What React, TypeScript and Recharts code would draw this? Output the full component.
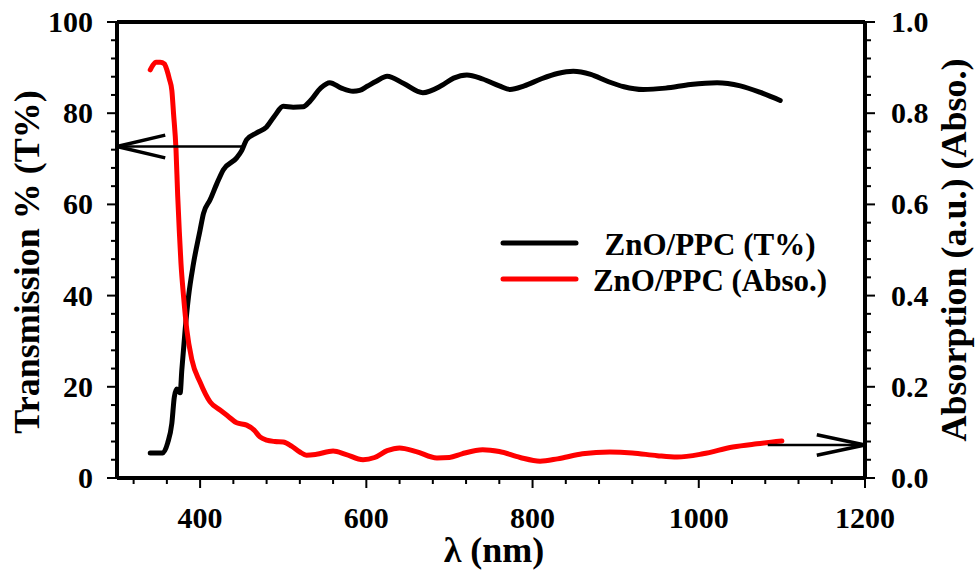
import { LineChart, Line, XAxis, YAxis, ReferenceLine, Legend } from 'recharts';

// transmission curve (left axis)
const tNm = [340, 350, 355, 361, 366, 369, 372, 376, 378, 382, 386, 392, 400, 404, 412, 420, 428, 444, 450, 456, 468, 480, 490, 500, 512, 524, 532, 545, 556, 570, 584, 592, 601, 612, 625, 645, 668, 690, 705, 721, 740, 760, 773, 790, 810, 830, 849, 870, 890, 910, 933, 960, 990, 1022, 1050, 1075, 1098];
const tVal = [5.5, 5.5, 5.5, 7.7, 12, 17.8, 19.5, 18.7, 23.7, 32.5, 39.7, 47, 54.4, 58, 61, 64.5, 67.6, 70.2, 71.8, 74.2, 75.7, 77, 79.5, 81.5, 81.3, 81.4, 82.6, 85.5, 86.7, 85.5, 84.8, 85, 85.9, 87, 88.1, 86.5, 84.5, 86, 87.7, 88.4, 87.5, 86, 85.2, 86, 87.5, 88.7, 89.2, 88.5, 87, 85.8, 85.2, 85.5, 86.3, 86.7, 86, 84.5, 82.8];

// absorption curve (right axis)
const aNm = [340, 343, 347, 352, 357, 360, 363, 366, 368, 371, 373, 375, 377, 380, 384, 390, 400, 412, 424, 434, 444, 456, 465, 472, 480, 490, 500, 510, 520, 528, 540, 560, 575, 596, 610, 625, 640, 660, 685, 700, 715, 740, 760, 785, 809, 830, 860, 893, 920, 950, 974, 1005, 1041, 1070, 1100];
const aVal = [0.895, 0.905, 0.912, 0.912, 0.908, 0.895, 0.875, 0.85, 0.8, 0.72, 0.62, 0.54, 0.47, 0.4, 0.325, 0.26, 0.21, 0.167, 0.149, 0.135, 0.121, 0.116, 0.105, 0.09, 0.083, 0.08, 0.079, 0.07, 0.057, 0.05, 0.052, 0.059, 0.052, 0.04, 0.045, 0.06, 0.066, 0.058, 0.044, 0.045, 0.053, 0.062, 0.058, 0.045, 0.037, 0.042, 0.053, 0.057, 0.055, 0.049, 0.046, 0.053, 0.068, 0.075, 0.081];

const seriesNames = ['ZnO/PPC (T%)', 'ZnO/PPC (Abso.)'];

// annotation arrows: [x, y] pairs
const arrowLeft = [[300, 72.7], [452, 72.7]];
const arrowLeftHead = [[300, 72.7], [358, 75.2], [358, 70.2]];
const arrowRight = [[1083, 0.0725], [1200, 0.0725]];
const arrowRightHead = [[1200, 0.0725], [1142, 0.095], [1142, 0.05]];

const xTicks: number[] = [];
for (let v = 320; v <= 1200; v += 40) xTicks.push(v);
const leftTicks: number[] = [];
for (let v = 0; v <= 100; v += 4) leftTicks.push(v);
const rightTicks: number[] = [];
for (let i = 0; i <= 25; i++) rightTicks.push(Math.round(i * 4) / 100);

const tData = tNm.map((nm, i) => ({ nm, t: tVal[i] }));
const aData = aNm.map((nm, i) => ({ nm, a: aVal[i] }));

const FONT = '"Liberation Serif", "Times New Roman", serif';
const TICK_FONT = 30;

function XTick({ x, y, payload }: any) {
  const major = payload.value % 200 === 0;
  return (
    <g>
      <line x1={x} y1={y} x2={x} y2={y + (major ? 10 : 6)} stroke="#000" strokeWidth={2} />
      {major && (
        <text x={x} y={y + 50} textAnchor="middle" fontFamily={FONT} fontWeight="bold" fontSize={TICK_FONT} fill="#000">
          {payload.value}
        </text>
      )}
    </g>
  );
}

function LeftTick({ x, y, payload }: any) {
  const major = payload.value % 20 === 0;
  return (
    <g>
      <line x1={x} y1={y} x2={x - (major ? 10 : 6)} y2={y} stroke="#000" strokeWidth={2} />
      {major && (
        <text x={x - 24} y={y + 10} textAnchor="end" fontFamily={FONT} fontWeight="bold" fontSize={TICK_FONT} fill="#000">
          {payload.value}
        </text>
      )}
    </g>
  );
}

function RightTick({ x, y, payload }: any) {
  const v = payload.value;
  const major = Math.abs(v * 5 - Math.round(v * 5)) < 1e-6;
  return (
    <g>
      <line x1={x} y1={y} x2={x + (major ? 10 : 6)} y2={y} stroke="#000" strokeWidth={2} />
      {major && (
        <text x={x + 26} y={y + 10} textAnchor="start" fontFamily={FONT} fontWeight="bold" fontSize={TICK_FONT} fill="#000">
          {v.toFixed(1)}
        </text>
      )}
    </g>
  );
}

function LegendBox({ payload }: any) {
  const items = [...(payload || [])].sort(
    (a: any, b: any) => seriesNames.indexOf(a.value) - seriesNames.indexOf(b.value)
  );
  return (
    <svg width={350} height={80}>
      {items.map((p: any, i: number) => (
        <g key={p.value}>
          <line x1={10} y1={23 + i * 36} x2={83} y2={23 + i * 36} stroke={p.color} strokeWidth={5} strokeLinecap="round" />
          <text x={217} y={35 + i * 36} textAnchor="middle" fontFamily={FONT} fontWeight="bold" fontSize={31} fill="#000">
            {p.value}
          </text>
        </g>
      ))}
    </svg>
  );
}

const axisLine = { stroke: '#000', strokeWidth: 4 };

export default function App() {
  return (
    <div style={{ position: 'absolute', left: 0, top: 0, background: '#fff' }}>
      <LineChart width={975} height={573} margin={{ top: 22, right: 0, bottom: 0, left: 0 }}>
        <XAxis
          dataKey="nm"
          type="number"
          domain={[300, 1200]}
          ticks={xTicks}
          interval={0}
          height={95}
          tickSize={0}
          tickMargin={0}
          tickLine={false}
          axisLine={axisLine}
          tick={<XTick />}
          allowDuplicatedCategory={false}
          label={{
            content: () => (
              <text x={494} y={562} textAnchor="middle" fontFamily={FONT} fontWeight="bold" fontSize={36} fill="#000">
                λ (nm)
              </text>
            ),
          }}
        />
        <YAxis
          yAxisId="left"
          domain={[0, 100]}
          ticks={leftTicks}
          interval={0}
          width={117}
          tickSize={0}
          tickMargin={0}
          tickLine={false}
          axisLine={axisLine}
          tick={<LeftTick />}
          label={{
            content: () => (
              <text
                x={27}
                y={262}
                transform="rotate(-90 27 262)"
                textAnchor="middle"
                dominantBaseline="central"
                fontFamily={FONT}
                fontWeight="bold"
                fontSize={36}
                fill="#000"
              >
                Transmission % (T%)
              </text>
            ),
          }}
        />
        <YAxis
          yAxisId="right"
          orientation="right"
          domain={[0, 1]}
          ticks={rightTicks}
          interval={0}
          width={110}
          tickSize={0}
          tickMargin={0}
          tickLine={false}
          axisLine={axisLine}
          tick={<RightTick />}
          label={{
            content: () => (
              <text
                x={954}
                y={250}
                transform="rotate(-90 954 250)"
                textAnchor="middle"
                dominantBaseline="central"
                fontFamily={FONT}
                fontWeight="bold"
                fontSize={36}
                fill="#000"
              >
                Absorption (a.u.) (Abso.)
              </text>
            ),
          }}
        />
        <ReferenceLine yAxisId="left" y={100} stroke="#000" strokeWidth={4} />
        <Line
          yAxisId="left"
          data={tData}
          dataKey="t"
          name={seriesNames[0]}
          type="monotone"
          stroke="#000"
          strokeWidth={5}
          dot={false}
          strokeLinecap="round"
          isAnimationActive={false}
        />
        <Line
          yAxisId="right"
          data={aData}
          dataKey="a"
          name={seriesNames[1]}
          type="monotone"
          stroke="#ff0000"
          strokeWidth={5}
          dot={false}
          strokeLinecap="round"
          isAnimationActive={false}
        />
        <ReferenceLine
          yAxisId="left"
          segment={arrowLeft.map(([x, y]) => ({ x, y }))}
          stroke="#000"
          strokeWidth={2.5}
        />
        <ReferenceLine
          yAxisId="left"
          segment={[arrowLeftHead[0], arrowLeftHead[1]].map(([x, y]) => ({ x, y }))}
          stroke="#000"
          strokeWidth={3.5}
        />
        <ReferenceLine
          yAxisId="left"
          segment={[arrowLeftHead[0], arrowLeftHead[2]].map(([x, y]) => ({ x, y }))}
          stroke="#000"
          strokeWidth={3.5}
        />
        <ReferenceLine
          yAxisId="right"
          segment={arrowRight.map(([x, y]) => ({ x, y }))}
          stroke="#000"
          strokeWidth={2.5}
        />
        <ReferenceLine
          yAxisId="right"
          segment={[arrowRightHead[0], arrowRightHead[1]].map(([x, y]) => ({ x, y }))}
          stroke="#000"
          strokeWidth={3.5}
        />
        <ReferenceLine
          yAxisId="right"
          segment={[arrowRightHead[0], arrowRightHead[2]].map(([x, y]) => ({ x, y }))}
          stroke="#000"
          strokeWidth={3.5}
        />
        <Legend
          layout="horizontal"
          verticalAlign="middle"
          align="center"
          content={<LegendBox />}
          wrapperStyle={{ left: 493, top: 220, width: 350, height: 80 }}
        />
      </LineChart>
    </div>
  );
}
